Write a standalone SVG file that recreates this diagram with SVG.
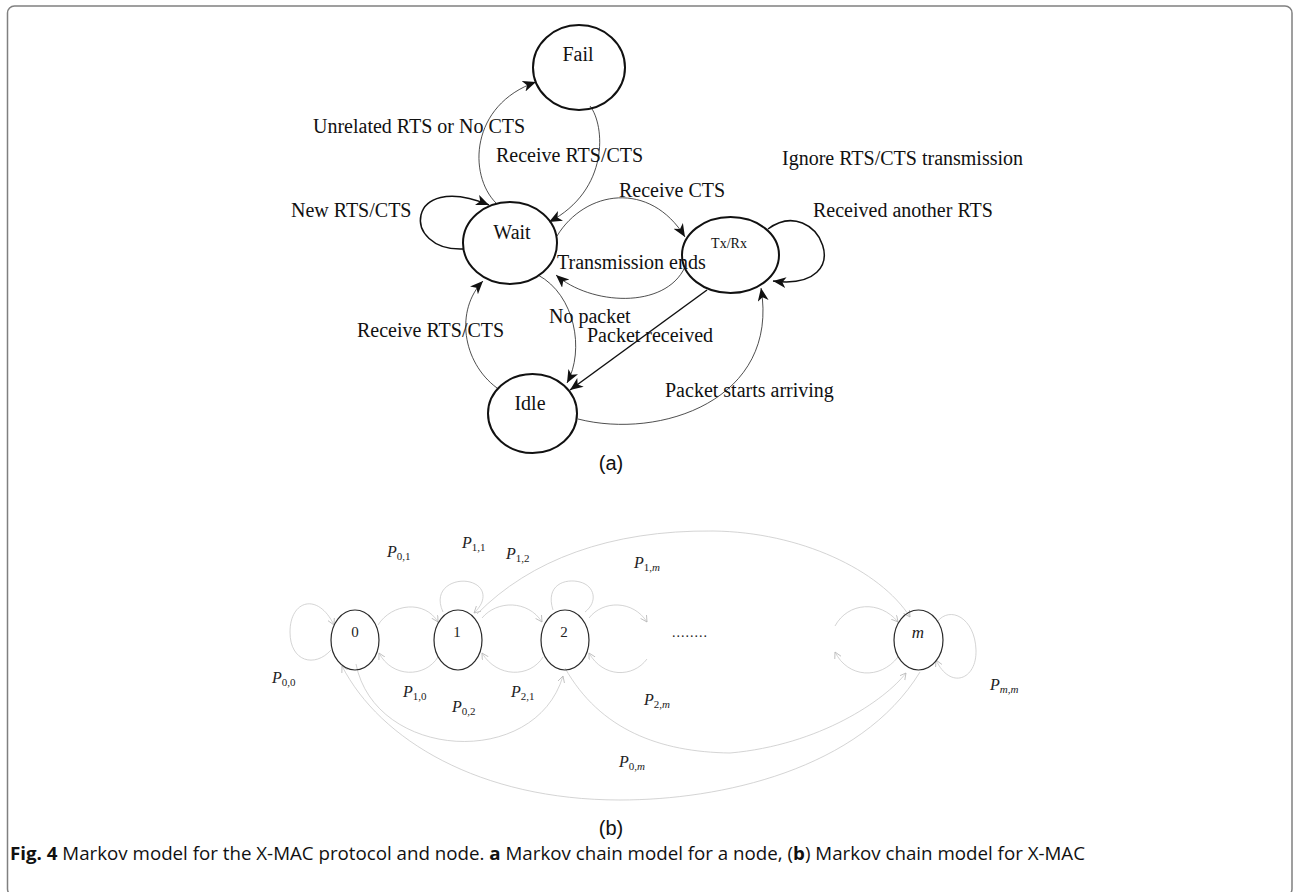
<svg xmlns="http://www.w3.org/2000/svg" width="1294" height="892" viewBox="0 0 1294 892">
<defs>
<style>
.frame{fill:none;stroke:#808080;stroke-width:1.5}
.st{fill:none;stroke:#111;stroke-width:2}
.lbl{font-family:"Liberation Serif","Times New Roman",serif;font-size:20px;fill:#111}
.thin{fill:none;stroke:#222;stroke-width:0.8;marker-end:url(#ah)}
.thick{fill:none;stroke:#111;stroke-width:1.5;marker-end:url(#ah)}
.bn{fill:none;stroke:#2a2a2a;stroke-width:1.2}
.bt{font-family:"Liberation Serif","Times New Roman",serif;font-size:15px;fill:#222}
.bc{fill:none;stroke:#c9c9c9;stroke-width:0.8}
.ba{marker-end:url(#oa)}
.pl{font-family:"Liberation Serif","Times New Roman",serif;font-size:16px;font-style:italic;fill:#222}
.sub{font-size:11px;font-style:normal}
.cap{font-family:"Open Sans","Liberation Sans",sans-serif;font-size:17.5px;fill:#111}
.pan{font-family:"Liberation Sans",Arial,sans-serif;font-size:20px;fill:#111}
</style>
<marker id="ah" markerUnits="userSpaceOnUse" markerWidth="14" markerHeight="12" refX="13" refY="5.5" orient="auto">
<path d="M0,0 L13,5.5 L0,11 L3.5,5.5 z" fill="#111"/>
</marker>
<marker id="oa" markerUnits="userSpaceOnUse" markerWidth="8" markerHeight="8" refX="6.5" refY="3.5" orient="auto">
<path d="M0,0 L6.5,3.5 L0,7" fill="none" stroke="#b8b8b8" stroke-width="0.8"/>
</marker>
</defs>
<rect class="frame" x="7.5" y="6" width="1284.5" height="890" rx="7"/>

<!-- Part (a) connectors -->
<g id="connectors-a">
<path class="thin" d="M496,203 C 468,175 470,105 536,82"/>
<path class="thin" d="M590,106 C 605,125 610,190 549,222"/>
<path class="thick" d="M464,249 C 400,252 405,170 489,205"/>
<path class="thin" d="M557,236 C 585,190 650,180 685,237"/>
<path class="thin" d="M685,267 C 665,310 590,305 556,275"/>
<path class="thick" d="M768,229 C 818,192 862,292 773,281"/>
<path class="thin" d="M538,275 C 575,295 585,350 567,383"/>
<path class="thin" d="M497,388 C 462,362 455,310 483,281"/>
<path class="thick" d="M707,290 L570,390"/>
<path class="thin" d="M578,419 C 660,440 780,400 761,288"/>
</g>

<!-- Part (a) nodes -->
<g id="node-fail"><ellipse class="st" cx="579" cy="67.5" rx="46" ry="42.5"/><text class="lbl" x="578" y="61" text-anchor="middle">Fail</text></g>
<g id="node-wait"><ellipse class="st" cx="510" cy="243" rx="47" ry="41"/><text class="lbl" x="512" y="239" text-anchor="middle">Wait</text></g>
<g id="node-txrx"><ellipse class="st" cx="730.5" cy="255" rx="48.5" ry="38"/><text class="lbl" x="729" y="248" text-anchor="middle" style="font-size:14px">Tx/Rx</text></g>
<g id="node-idle"><ellipse class="st" cx="532.5" cy="413.5" rx="44.5" ry="39.5"/><text class="lbl" x="530" y="410" text-anchor="middle">Idle</text></g>

<!-- Part (a) labels -->
<g id="labels-a">
<text class="lbl" x="313" y="133">Unrelated RTS or No CTS</text>
<text class="lbl" x="496" y="162">Receive RTS/CTS</text>
<text class="lbl" x="291" y="217">New RTS/CTS</text>
<text class="lbl" x="619" y="197">Receive CTS</text>
<text class="lbl" x="782" y="165">Ignore RTS/CTS transmission</text>
<text class="lbl" x="813" y="217">Received another RTS</text>
<text class="lbl" x="557" y="269">Transmission ends</text>
<text class="lbl" x="549" y="323">No packet</text>
<text class="lbl" x="587" y="342">Packet received</text>
<text class="lbl" x="357" y="337">Receive RTS/CTS</text>
<text class="lbl" x="665" y="397">Packet starts arriving</text>
</g>
<text class="pan" x="611" y="470" text-anchor="middle">(a)</text>

<!-- Part (b) connectors -->
<g id="connectors-b">
<path class="bc ba" d="M331,650 C 315,668 290,662 290,632 C 290,600 318,592 334,625"/>
<path class="bc ba" d="M378,625 C 392,603 425,600 438,622"/>
<path class="bc ba" d="M438,657 C 425,678 392,678 379,653"/>
<path class="bc ba" d="M482,618 C 497,600 528,600 542,622"/>
<path class="bc ba" d="M543,657 C 530,678 497,678 482,653"/>
<path class="bc ba" d="M589,618 C 603,600 633,600 647,622"/>
<path class="bc ba" d="M647,659 C 633,678 603,678 589,653"/>
<path class="bc ba" d="M835,626 C 848,602 880,600 898,622"/>
<path class="bc ba" d="M898,657 C 880,680 848,678 835,652"/>
<path class="bc ba" d="M443,612 C 432,588 455,578 470,582 C 485,586 488,600 474,613"/>
<path class="bc" d="M553,610 C 545,585 565,578 580,582 C 595,586 598,602 585,612"/>
<path class="bc ba" d="M937,622 C 950,605 975,618 976,650 C 977,680 950,690 936,660"/>
<path class="bc ba" d="M477,614 C 530,560 610,530 713,531 C 800,532 880,570 910,617"/>
<path class="bc ba" d="M565,668 C 600,730 660,752 730,753 C 820,745 885,700 906,673"/>
<path class="bc ba" d="M356,664 C 375,760 535,770 563,676"/>
<path class="bc ba" d="M920,672 C 860,770 720,800 620,800 C 480,800 380,740 342,666"/>
</g>

<!-- Part (b) nodes -->
<g id="node-0"><ellipse class="bn" cx="355" cy="640" rx="24" ry="30"/><text class="bt" x="355" y="637" text-anchor="middle">0</text></g>
<g id="node-1"><ellipse class="bn" cx="458" cy="640" rx="24" ry="30"/><text class="bt" x="457" y="637" text-anchor="middle">1</text></g>
<g id="node-2"><ellipse class="bn" cx="565" cy="640" rx="24" ry="30"/><text class="bt" x="564" y="637" text-anchor="middle">2</text></g>
<g id="node-m"><ellipse class="bn" cx="918.5" cy="640" rx="24.5" ry="30"/><text class="bt" x="918" y="638" text-anchor="middle" font-style="italic" style="font-size:17px">m</text></g>
<text class="bt" x="672" y="637" style="font-size:14px;letter-spacing:1px">........</text>

<!-- Part (b) labels -->
<g id="labels-b">
<text class="pl" x="387" y="557">P<tspan class="sub" dy="3">0,1</tspan></text>
<text class="pl" x="462" y="548">P<tspan class="sub" dy="3">1,1</tspan></text>
<text class="pl" x="506" y="559">P<tspan class="sub" dy="3">1,2</tspan></text>
<text class="pl" x="634" y="568">P<tspan class="sub" dy="3">1,<tspan font-style="italic">m</tspan></tspan></text>
<text class="pl" x="272" y="683">P<tspan class="sub" dy="3">0,0</tspan></text>
<text class="pl" x="403" y="697">P<tspan class="sub" dy="3">1,0</tspan></text>
<text class="pl" x="452" y="712">P<tspan class="sub" dy="3">0,2</tspan></text>
<text class="pl" x="511" y="697">P<tspan class="sub" dy="3">2,1</tspan></text>
<text class="pl" x="644" y="705">P<tspan class="sub" dy="3">2,<tspan font-style="italic">m</tspan></tspan></text>
<text class="pl" x="619" y="767">P<tspan class="sub" dy="3">0,<tspan font-style="italic">m</tspan></tspan></text>
<text class="pl" x="990" y="690">P<tspan class="sub" dy="3"><tspan font-style="italic">m</tspan>,<tspan font-style="italic">m</tspan></tspan></text>
</g>
<text class="pan" x="611" y="835" text-anchor="middle">(b)</text>

<text class="cap" x="10" y="860" textLength="1075" lengthAdjust="spacingAndGlyphs"><tspan font-weight="bold">Fig. 4</tspan> Markov model for the X-MAC protocol and node. <tspan font-weight="bold">a</tspan> Markov chain model for a node, (<tspan font-weight="bold">b</tspan>) Markov chain model for X-MAC</text>
</svg>
